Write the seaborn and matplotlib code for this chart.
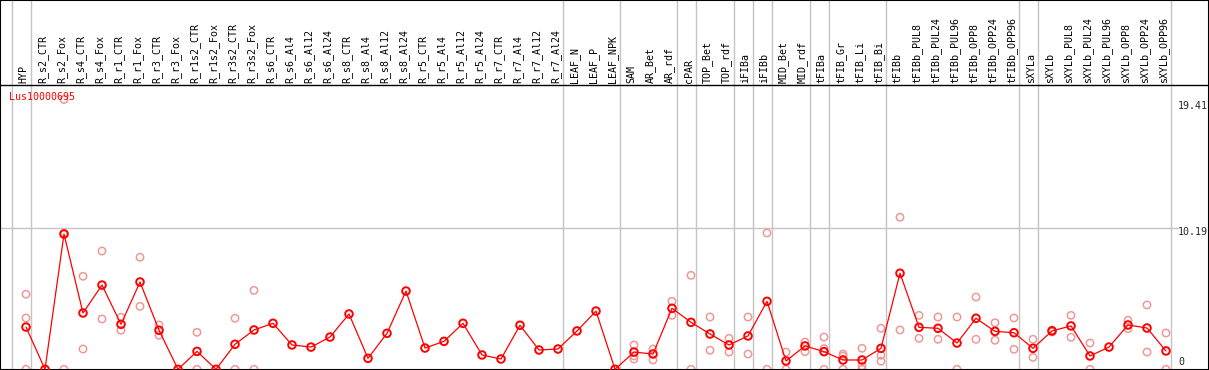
import pandas as pd
import matplotlib
matplotlib.use("Agg")
import matplotlib.pyplot as plt
import seaborn as sns

# ------------------------------------------------------------------
# Perfil de expresion de Lus10000695 por muestra (media + replicas)
# ------------------------------------------------------------------

gene_name = "Lus10000695"

muestras = [
    "HYP", "R_s2_CTR", "R_s2_Fox", "R_s4_CTR", "R_s4_Fox", "R_r1_CTR", "R_r1_Fox",
    "R_r3_CTR", "R_r3_Fox", "R_r1s2_CTR", "R_r1s2_Fox", "R_r3s2_CTR", "R_r3s2_Fox",
    "R_s6_CTR", "R_s6_Al4", "R_s6_Al12", "R_s6_Al24", "R_s8_CTR", "R_s8_Al4",
    "R_s8_Al12", "R_s8_Al24", "R_r5_CTR", "R_r5_Al4", "R_r5_Al12", "R_r5_Al24",
    "R_r7_CTR", "R_r7_Al4", "R_r7_Al12", "R_r7_Al24", "LEAF_N", "LEAF_P", "LEAF_NPK",
    "SAM", "AR_Bet", "AR_rdf", "cPAR", "TOP_Bet", "TOP_rdf", "iFIBa", "iFIBb",
    "MID_Bet", "MID_rdf", "tFIBa", "tFIB_Gr", "tFIB_Li", "tFIB_Bi", "tFIBb",
    "tFIBb_PUL8", "tFIBb_PUL24", "tFIBb_PUL96", "tFIBb_OPP8", "tFIBb_OPP24",
    "tFIBb_OPP96", "sXYLa", "sXYLb", "sXYLb_PUL8", "sXYLb_PUL24", "sXYLb_PUL96",
    "sXYLb_OPP8", "sXYLb_OPP24", "sXYLb_OPP96",
]

medias = [
    3.04, 0, 9.73, 4.05, 6.06, 3.24, 6.28, 2.81, 0, 1.29, 0, 1.80, 2.83,
    3.31, 1.75, 1.60, 2.32, 3.98, 0.79, 2.59, 5.63, 1.53, 2.01, 3.31, 1.03,
    0.74, 3.17, 1.39, 1.46, 2.76, 4.19, 0,
    1.24, 1.10, 4.39, 3.38, 2.54, 1.75, 2.40, 4.89, 0.60, 1.68, 1.27, 0.67,
    0.67, 1.51, 6.91, 3.02, 2.95, 1.89, 3.67, 2.73, 2.63, 1.51, 2.76, 3.12,
    0.96, 1.60, 3.19, 2.97, 1.32,
]

replicas = {
    "HYP": [5.40, 3.69, 0], "R_s2_Fox": [19.41, 9.8, 0],
    "R_s4_CTR": [6.69, 1.46], "R_s4_Fox": [8.51, 3.62],
    "R_r1_CTR": [3.74, 2.81], "R_r1_Fox": [8.06, 4.53],
    "R_r3_CTR": [3.19, 2.45], "R_r1s2_CTR": [2.66, 0],
    "R_r3s2_CTR": [3.67, 0], "R_r3s2_Fox": [5.68, 0],
    "SAM": [1.75, 0.96, 0.74], "AR_Bet": [1.46, 0.67], "AR_rdf": [4.89, 3.88],
    "cPAR": [6.76, 0], "TOP_Bet": [3.76, 1.37], "TOP_rdf": [2.23, 1.24],
    "iFIBa": [3.76, 1.10], "iFIBb": [9.81, 0], "MID_Bet": [1.24, 0],
    "MID_rdf": [1.96, 1.27], "tFIBa": [2.32, 1.49, 0], "tFIB_Gr": [1.10, 0.96, 0],
    "tFIB_Li": [1.51, 0.24, 0], "tFIB_Bi": [2.95, 1.01, 0.58],
    "tFIBb": [10.94, 2.83], "tFIBb_PUL8": [3.88, 2.23], "tFIBb_PUL24": [3.76, 2.16],
    "tFIBb_PUL96": [3.76, 0], "tFIBb_OPP8": [5.20, 2.16], "tFIBb_OPP24": [3.35, 2.09],
    "tFIBb_OPP96": [3.69, 1.44], "sXYLa": [2.16, 0.86], "sXYLb": [2.83, 2.69],
    "sXYLb_PUL8": [3.88, 2.30], "sXYLb_PUL24": [1.89, 0],
    "sXYLb_OPP8": [3.53, 2.92], "sXYLb_OPP24": [4.63, 1.24], "sXYLb_OPP96": [2.61, 0],
}

# separadores de grupo: se dibujan justo despues de estas muestras
separadores = [None, "HYP", "R_r7_Al24", "LEAF_NPK", "AR_rdf", "cPAR", "TOP_rdf",
               "iFIBa", "iFIBb", "MID_rdf", "tFIBa", "tFIB_Bi", "tFIBb_OPP96",
               "sXYLa", "sXYLb_OPP96"]

etiquetas_y = [19.41, 10.19, 0]

# ------------------------------------------------------------------
pos = {m: i for i, m in enumerate(muestras)}
df_media = pd.DataFrame({"pos": range(len(muestras)), "valor": medias})
df_rep = pd.DataFrame(
    [{"pos": pos[m], "valor": v} for m, vals in replicas.items() for v in vals]
)

sns.set_theme(style="white")
plt.rcParams["font.family"] = ["DejaVu Sans Mono", "DejaVu Sans"]

W, H = 1209, 370
fig = plt.figure(figsize=(W / 100, H / 100), dpi=100)
ax = fig.add_axes([0, 0, 1, 1])

# escala en pixeles: x = 26 + 19*i ; y0 = 369.3 ; 13.9 px por unidad
px_x = 19.0
px_y = 13.9
ax.set_xlim(-26 / px_x, (W - 26) / px_x)
ax.set_ylim((369.3 - H) / px_y, 369.3 / px_y)
y_cab = (369.3 - 85) / px_y  # linea bajo la cabecera

gris = "#c4c4c4"
for s in separadores:
    xs = (pos[s] if s is not None else -1) + 0.25
    ax.axvline(xs, color=gris, lw=1.0, zorder=1)

ax.hlines(10.19, -26 / px_x, 60.63, color=gris, lw=1.0, zorder=1)
ax.axhline(y_cab, color="black", lw=1.0, zorder=3)

# replicas (rosa) y medias (rojo)
sns.scatterplot(data=df_rep, x="pos", y="valor", ax=ax, marker="o", s=28,
                facecolors="none", edgecolors="#f09898", linewidth=1.1,
                zorder=2, legend=False)
sns.lineplot(data=df_media, x="pos", y="valor", ax=ax, color="red", lw=0.9,
             zorder=4, legend=False)
sns.scatterplot(data=df_media, x="pos", y="valor", ax=ax, marker="o", s=30,
                facecolors="none", edgecolors="red", linewidth=1.4,
                zorder=5, legend=False)

# cabecera con nombres de muestra en vertical
for m, i in pos.items():
    ax.text(i - 0.13, (369.3 - 83) / px_y, m, rotation=90, ha="center",
            va="bottom", fontsize=7.2, color="black")

ax.text(-0.88, (369.3 - 97) / px_y, gene_name, color="red", fontsize=7.2,
        ha="left", va="center")

# etiquetas del eje y a la derecha
x_lab = (1178 - 26) / px_x
ax.text(x_lab, etiquetas_y[0] - 0.5, f"{etiquetas_y[0]:.2f}", fontsize=7.2,
        ha="left", va="center")
ax.text(x_lab, etiquetas_y[1] - 0.3, f"{etiquetas_y[1]:.2f}", fontsize=7.2,
        ha="left", va="center")
ax.text(x_lab, etiquetas_y[2] + 0.5, f"{etiquetas_y[2]}", fontsize=7.2,
        ha="left", va="center")

ax.set_xticks([])
ax.set_yticks([])
ax.set_xlabel("")
ax.set_ylabel("")
for sp in ax.spines.values():
    sp.set_color("black")
    sp.set_linewidth(1.5)

fig.savefig("out.png", dpi=100)
plt.close(fig)
